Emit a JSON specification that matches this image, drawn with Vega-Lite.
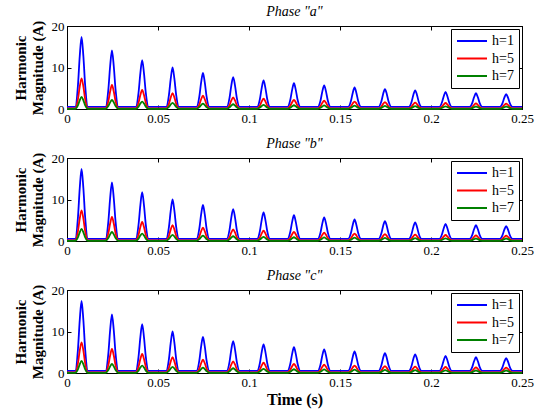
{
"$schema": "https://vega.github.io/schema/vega-lite/v6.json",
"background": "white",
"padding": {"left": 12, "top": 4, "right": 5, "bottom": 3},
"datasets": {"d": [
{"t":0,"h=1":0.5,"h=5":0.15,"h=7":0.05},
{"t":0.0045,"h=1":0.5,"h=5":0.15,"h=7":0.05},{"t":0.006,"h=1":5.6,"h=5":2.3,"h=7":0.9},{"t":0.007,"h=1":12.7,"h=5":5.4,"h=7":2.1},{"t":0.008,"h=1":17.4,"h=5":7.4,"h=7":2.9},{"t":0.009,"h=1":12.7,"h=5":5.4,"h=7":2.1},{"t":0.010,"h=1":5.6,"h=5":2.3,"h=7":0.9},{"t":0.0115,"h=1":0.5,"h=5":0.15,"h=7":0.05},
{"t":0.0212,"h=1":0.5,"h=5":0.15,"h=7":0.05},{"t":0.0227,"h=1":4.6,"h=5":1.85,"h=7":0.7},{"t":0.0237,"h=1":10.3,"h=5":4.2,"h=7":1.6},{"t":0.0247,"h=1":14.1,"h=5":5.8,"h=7":2.2},{"t":0.0257,"h=1":10.3,"h=5":4.2,"h=7":1.6},{"t":0.0267,"h=1":4.6,"h=5":1.85,"h=7":0.7},{"t":0.0282,"h=1":0.5,"h=5":0.15,"h=7":0.05},
{"t":0.0378,"h=1":0.5,"h=5":0.15,"h=7":0.05},{"t":0.0393,"h=1":3.9,"h=5":1.5,"h=7":0.58},{"t":0.0403,"h=1":8.6,"h=5":3.35,"h=7":1.31},{"t":0.0413,"h=1":11.8,"h=5":4.6,"h=7":1.8},{"t":0.0423,"h=1":8.6,"h=5":3.35,"h=7":1.31},{"t":0.0433,"h=1":3.9,"h=5":1.5,"h=7":0.58},{"t":0.0448,"h=1":0.5,"h=5":0.15,"h=7":0.05},
{"t":0.0545,"h=1":0.5,"h=5":0.15,"h=7":0.05},{"t":0.056,"h=1":3.35,"h=5":1.25,"h=7":0.49},{"t":0.057,"h=1":7.3,"h=5":2.8,"h=7":1.1},{"t":0.058,"h=1":10.0,"h=5":3.8,"h=7":1.5},{"t":0.059,"h=1":7.3,"h=5":2.8,"h=7":1.1},{"t":0.060,"h=1":3.35,"h=5":1.25,"h=7":0.49},{"t":0.0615,"h=1":0.5,"h=5":0.15,"h=7":0.05},
{"t":0.0712,"h=1":0.5,"h=5":0.15,"h=7":0.05},{"t":0.0727,"h=1":2.96,"h=5":1.07,"h=7":0.43},{"t":0.0737,"h=1":6.4,"h=5":2.35,"h=7":0.95},{"t":0.0747,"h=1":8.7,"h=5":3.2,"h=7":1.3},{"t":0.0757,"h=1":6.4,"h=5":2.35,"h=7":0.95},{"t":0.0767,"h=1":2.96,"h=5":1.07,"h=7":0.43},{"t":0.0782,"h=1":0.5,"h=5":0.15,"h=7":0.05},
{"t":0.0878,"h=1":0.5,"h=5":0.15,"h=7":0.05},{"t":0.0893,"h=1":2.66,"h=5":0.95,"h=7":0.38},{"t":0.0903,"h=1":5.7,"h=5":2.06,"h=7":0.84},{"t":0.0913,"h=1":7.7,"h=5":2.8,"h=7":1.15},{"t":0.0923,"h=1":5.7,"h=5":2.06,"h=7":0.84},{"t":0.0933,"h=1":2.66,"h=5":0.95,"h=7":0.38},{"t":0.0948,"h=1":0.5,"h=5":0.15,"h=7":0.05},
{"t":0.1045,"h=1":0.5,"h=5":0.15,"h=7":0.05},{"t":0.106,"h=1":2.42,"h=5":0.86,"h=7":0.34},{"t":0.107,"h=1":5.1,"h=5":1.84,"h=7":0.73},{"t":0.108,"h=1":6.9,"h=5":2.5,"h=7":1.0},{"t":0.109,"h=1":5.1,"h=5":1.84,"h=7":0.73},{"t":0.110,"h=1":2.42,"h=5":0.86,"h=7":0.34},{"t":0.1115,"h=1":0.5,"h=5":0.15,"h=7":0.05},
{"t":0.1212,"h=1":0.5,"h=5":0.15,"h=7":0.05},{"t":0.1227,"h=1":2.21,"h=5":0.77,"h=7":0.31},{"t":0.1237,"h=1":4.6,"h=5":1.63,"h=7":0.66},{"t":0.1247,"h=1":6.2,"h=5":2.2,"h=7":0.9},{"t":0.1257,"h=1":4.6,"h=5":1.63,"h=7":0.66},{"t":0.1267,"h=1":2.21,"h=5":0.77,"h=7":0.31},{"t":0.1282,"h=1":0.5,"h=5":0.15,"h=7":0.05},
{"t":0.1378,"h=1":0.5,"h=5":0.15,"h=7":0.05},{"t":0.1393,"h=1":2.06,"h=5":0.71,"h=7":0.29},{"t":0.1403,"h=1":4.24,"h=5":1.48,"h=7":0.63},{"t":0.1413,"h=1":5.7,"h=5":2.0,"h=7":0.85},{"t":0.1423,"h=1":4.24,"h=5":1.48,"h=7":0.63},{"t":0.1433,"h=1":2.06,"h=5":0.71,"h=7":0.29},{"t":0.1448,"h=1":0.5,"h=5":0.15,"h=7":0.05},
{"t":0.1545,"h=1":0.5,"h=5":0.15,"h=7":0.05},{"t":0.156,"h=1":1.91,"h=5":0.65,"h=7":0.28},{"t":0.157,"h=1":3.88,"h=5":1.34,"h=7":0.59},{"t":0.158,"h=1":5.2,"h=5":1.8,"h=7":0.8},{"t":0.159,"h=1":3.88,"h=5":1.34,"h=7":0.59},{"t":0.160,"h=1":1.91,"h=5":0.65,"h=7":0.28},{"t":0.1615,"h=1":0.5,"h=5":0.15,"h=7":0.05},
{"t":0.1712,"h=1":0.5,"h=5":0.15,"h=7":0.05},{"t":0.1727,"h=1":1.79,"h=5":0.6,"h=7":0.26},{"t":0.1737,"h=1":3.6,"h=5":1.23,"h=7":0.55},{"t":0.1747,"h=1":4.8,"h=5":1.65,"h=7":0.75},{"t":0.1757,"h=1":3.6,"h=5":1.23,"h=7":0.55},{"t":0.1767,"h=1":1.79,"h=5":0.6,"h=7":0.26},{"t":0.1782,"h=1":0.5,"h=5":0.15,"h=7":0.05},
{"t":0.1878,"h=1":0.5,"h=5":0.15,"h=7":0.05},{"t":0.1893,"h=1":1.7,"h=5":0.57,"h=7":0.25},{"t":0.1903,"h=1":3.38,"h=5":1.16,"h=7":0.52},{"t":0.1913,"h=1":4.5,"h=5":1.55,"h=7":0.7},{"t":0.1923,"h=1":3.38,"h=5":1.16,"h=7":0.52},{"t":0.1933,"h=1":1.7,"h=5":0.57,"h=7":0.25},{"t":0.1948,"h=1":0.5,"h=5":0.15,"h=7":0.05},
{"t":0.2045,"h=1":0.5,"h=5":0.15,"h=7":0.05},{"t":0.206,"h=1":1.58,"h=5":0.54,"h=7":0.23},{"t":0.207,"h=1":3.09,"h=5":1.09,"h=7":0.48},{"t":0.208,"h=1":4.1,"h=5":1.45,"h=7":0.65},{"t":0.209,"h=1":3.09,"h=5":1.09,"h=7":0.48},{"t":0.210,"h=1":1.58,"h=5":0.54,"h=7":0.23},{"t":0.2115,"h=1":0.5,"h=5":0.15,"h=7":0.05},
{"t":0.2212,"h=1":0.5,"h=5":0.15,"h=7":0.05},{"t":0.2227,"h=1":1.49,"h=5":0.51,"h=7":0.22},{"t":0.2237,"h=1":2.88,"h=5":1.01,"h=7":0.45},{"t":0.2247,"h=1":3.8,"h=5":1.35,"h=7":0.6},{"t":0.2257,"h=1":2.88,"h=5":1.01,"h=7":0.45},{"t":0.2267,"h=1":1.49,"h=5":0.51,"h=7":0.22},{"t":0.2282,"h=1":0.5,"h=5":0.15,"h=7":0.05},
{"t":0.2378,"h=1":0.5,"h=5":0.15,"h=7":0.05},{"t":0.2393,"h=1":1.43,"h=5":0.5,"h=7":0.22},{"t":0.2403,"h=1":2.73,"h=5":0.98,"h=7":0.45},{"t":0.2413,"h=1":3.6,"h=5":1.3,"h=7":0.6},{"t":0.2423,"h=1":2.73,"h=5":0.98,"h=7":0.45},{"t":0.2433,"h=1":1.43,"h=5":0.5,"h=7":0.22},{"t":0.2448,"h=1":0.5,"h=5":0.15,"h=7":0.05},
{"t":0.25,"h=1":0.5,"h=5":0.15,"h=7":0.05}
]},
"spacing": 49,
"bounds": "flush",
"resolve": {"legend": {"color": "independent"}},
"vconcat": [
{
 "title": {"text": "Phase \"a\""},
 "width": 455, "height": 83,
 "data": {"name": "d"},
 "transform": [{"fold": ["h=1","h=5","h=7"], "as": ["series","value"]}],
 "layer": [
  {"mark": {"type": "line", "strokeWidth": 1.8, "interpolate": "monotone"},
   "encoding": {
    "x": {"field": "t", "type": "quantitative", "scale": {"domain": [0,0.25], "nice": false}, "axis": {"values": [0,0.05,0.1,0.15,0.2,0.25], "format": ".2~f", "title": null}},
    "y": {"field": "value", "type": "quantitative", "scale": {"domain": [0,20], "nice": false}, "axis": {"values": [0,10,20], "title": ["Harmonic","Magnitude (A)"]}},
    "color": {"field": "series", "type": "nominal", "scale": {"domain": ["h=1","h=5","h=7"], "range": ["#0000ff","#ff0000","#008000"]}, "legend": {"title": null, "orient": "top-right", "offset": 3, "symbolType": "stroke", "symbolSize": 900, "symbolStrokeWidth": 2, "clipHeight": 14, "labelFont": "Liberation Serif, DejaVu Serif, serif", "labelFontSize": 14, "labelColor": "black", "strokeColor": "black", "fillColor": "white", "padding": 5, "rowPadding": 3.5, "labelOffset": 4}}
   }},
  {"mark": {"type": "line", "opacity": 0},
   "encoding": {
    "x": {"field": "t", "type": "quantitative", "axis": {"orient": "top", "labels": false, "title": null, "values": [0,0.05,0.1,0.15,0.2,0.25]}},
    "y": {"field": "value", "type": "quantitative", "axis": {"orient": "right", "labels": false, "title": null, "values": [0,10,20]}}
   }}
 ],
 "resolve": {"axis": {"x": "independent", "y": "independent"}}
},
{
 "title": {"text": "Phase \"b\""},
 "width": 455, "height": 83,
 "data": {"name": "d"},
 "transform": [{"fold": ["h=1","h=5","h=7"], "as": ["series","value"]}],
 "layer": [
  {"mark": {"type": "line", "strokeWidth": 1.8, "interpolate": "monotone"},
   "encoding": {
    "x": {"field": "t", "type": "quantitative", "scale": {"domain": [0,0.25], "nice": false}, "axis": {"values": [0,0.05,0.1,0.15,0.2,0.25], "format": ".2~f", "title": null}},
    "y": {"field": "value", "type": "quantitative", "scale": {"domain": [0,20], "nice": false}, "axis": {"values": [0,10,20], "title": ["Harmonic","Magnitude (A)"]}},
    "color": {"field": "series", "type": "nominal", "scale": {"domain": ["h=1","h=5","h=7"], "range": ["#0000ff","#ff0000","#008000"]}, "legend": {"title": null, "orient": "top-right", "offset": 3, "symbolType": "stroke", "symbolSize": 900, "symbolStrokeWidth": 2, "clipHeight": 14, "labelFont": "Liberation Serif, DejaVu Serif, serif", "labelFontSize": 14, "labelColor": "black", "strokeColor": "black", "fillColor": "white", "padding": 5, "rowPadding": 3.5, "labelOffset": 4}}
   }},
  {"mark": {"type": "line", "opacity": 0},
   "encoding": {
    "x": {"field": "t", "type": "quantitative", "axis": {"orient": "top", "labels": false, "title": null, "values": [0,0.05,0.1,0.15,0.2,0.25]}},
    "y": {"field": "value", "type": "quantitative", "axis": {"orient": "right", "labels": false, "title": null, "values": [0,10,20]}}
   }}
 ],
 "resolve": {"axis": {"x": "independent", "y": "independent"}}
},
{
 "title": {"text": "Phase \"c\""},
 "width": 455, "height": 83,
 "data": {"name": "d"},
 "transform": [{"fold": ["h=1","h=5","h=7"], "as": ["series","value"]}],
 "layer": [
  {"mark": {"type": "line", "strokeWidth": 1.8, "interpolate": "monotone"},
   "encoding": {
    "x": {"field": "t", "type": "quantitative", "scale": {"domain": [0,0.25], "nice": false}, "axis": {"values": [0,0.05,0.1,0.15,0.2,0.25], "format": ".2~f", "title": "Time (s)", "titleFontSize": 16, "titlePadding": 2}},
    "y": {"field": "value", "type": "quantitative", "scale": {"domain": [0,20], "nice": false}, "axis": {"values": [0,10,20], "title": ["Harmonic","Magnitude (A)"]}},
    "color": {"field": "series", "type": "nominal", "scale": {"domain": ["h=1","h=5","h=7"], "range": ["#0000ff","#ff0000","#008000"]}, "legend": {"title": null, "orient": "top-right", "offset": 3, "symbolType": "stroke", "symbolSize": 900, "symbolStrokeWidth": 2, "clipHeight": 14, "labelFont": "Liberation Serif, DejaVu Serif, serif", "labelFontSize": 14, "labelColor": "black", "strokeColor": "black", "fillColor": "white", "padding": 5, "rowPadding": 3.5, "labelOffset": 4}}
   }},
  {"mark": {"type": "line", "opacity": 0},
   "encoding": {
    "x": {"field": "t", "type": "quantitative", "axis": {"orient": "top", "labels": false, "title": null, "values": [0,0.05,0.1,0.15,0.2,0.25]}},
    "y": {"field": "value", "type": "quantitative", "axis": {"orient": "right", "labels": false, "title": null, "values": [0,10,20]}}
   }}
 ],
 "resolve": {"axis": {"x": "independent", "y": "independent"}}
}
],
"config": {
 "view": {"stroke": "black", "strokeWidth": 1},
 "title": {"font": "Liberation Serif, DejaVu Serif, serif", "fontSize": 14, "fontStyle": "italic", "fontWeight": "normal", "color": "black", "offset": 1, "anchor": "middle"},
 "axis": {"grid": false, "domainColor": "black", "tickColor": "black", "labelColor": "black", "labelFont": "Liberation Serif, DejaVu Serif, serif", "labelFontSize": 13, "titleFont": "Liberation Serif, DejaVu Serif, serif", "titleFontSize": 15, "titleFontWeight": "bold", "titleColor": "black", "tickSize": -4, "labelPadding": 7, "labelFlush": false},
 "axisY": {"titlePadding": 6}
}
}
